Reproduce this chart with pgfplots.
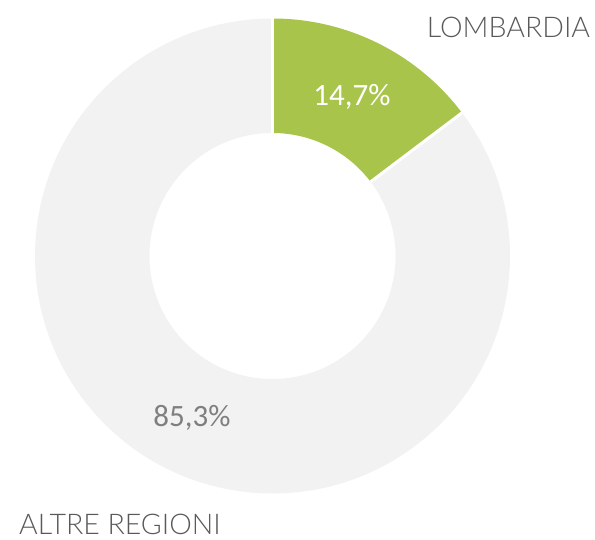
\documentclass[border=0pt]{standalone}
\usepackage{fontspec}
\setmainfont{Carlito}
\newfontfamily\labelfont{Lato Light}
\usepackage{pgfplots}
\usepackage{pgfplotstable}
\pgfplotsset{compat=1.18}
\definecolor{slgreen}{HTML}{A8C44B}
\definecolor{slgray}{HTML}{F2F2F2}
\definecolor{lbl}{HTML}{595959}
\definecolor{numgray}{HTML}{7F7F7F}
\pgfplotstableread{
label value
LOMBARDIA 14.7
ALTRE 85.3
}\piedata
\begin{document}
\begin{tikzpicture}
\pgfplotstablegetelem{0}{value}\of\piedata
\pgfmathsetmacro{\va}{\pgfplotsretval}
\pgfmathsetmacro{\aA}{90}
\pgfmathsetmacro{\aB}{90-\va*3.6}
\pgfmathsetmacro{\aC}{-270}
\def\cx{272.5}\def\cy{284}
\def\R{237.5}\def\r{123}
\begin{axis}[
  x=1bp, y=1bp, xmin=0, xmax=595, ymin=0, ymax=540,
  hide axis, scale only axis, clip=false, disabledatascaling]
\path (axis cs:0,0) rectangle (axis cs:595,540);
% gray slice
\fill[slgray] (axis cs:{\cx+\R*cos(\aB)},{\cy+\R*sin(\aB)}) arc[start angle=\aB, end angle=\aC, radius=\R bp]
  -- (axis cs:{\cx+\r*cos(\aC)},{\cy+\r*sin(\aC)}) arc[start angle=\aC, end angle=\aB, radius=\r bp] -- cycle;
% green slice
\fill[slgreen] (axis cs:{\cx+\R*cos(\aA)},{\cy+\R*sin(\aA)}) arc[start angle=\aA, end angle=\aB, radius=\R bp]
  -- (axis cs:{\cx+\r*cos(\aB)},{\cy+\r*sin(\aB)}) arc[start angle=\aB, end angle=\aA, radius=\r bp] -- cycle;
% separators
\draw[white, line width=3bp] (axis cs:{\cx+\r*cos(\aA)},{\cy+\r*sin(\aA)}) -- (axis cs:{\cx+(\R+2)*cos(\aA)},{\cy+(\R+2)*sin(\aA)});
\draw[white, line width=3bp] (axis cs:{\cx+\r*cos(\aB)},{\cy+\r*sin(\aB)}) -- (axis cs:{\cx+(\R+2)*cos(\aB)},{\cy+(\R+2)*sin(\aB)});
% labels
\node[white, font=\fontsize{31bp}{36bp}\selectfont] at (axis cs:352,443) {14,7\%};
\node[numgray, font=\fontsize{31bp}{36bp}\selectfont] at (axis cs:192,122) {85,3\%};
\node[lbl, inner sep=0pt, font=\labelfont\fontsize{28.5bp}{32bp}\selectfont] at (axis cs:508.5,512.5) {LOMBARDIA};
\node[lbl, inner sep=0pt, font=\labelfont\fontsize{28.5bp}{32bp}\selectfont] at (axis cs:120,15.5) {ALTRE REGIONI};
\end{axis}
\end{tikzpicture}
\end{document}
